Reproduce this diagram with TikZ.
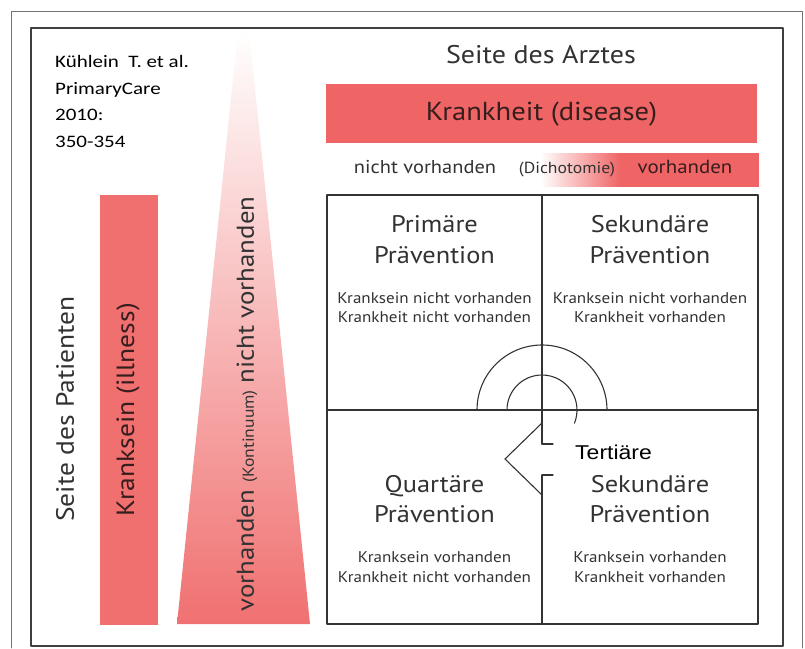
\documentclass[tikz,border=0pt]{standalone}
\usepackage{fontspec}
\setmainfont{PT Sans}[FakeStretch=1.1]
\newfontfamily\citefont{Carlito}[FakeStretch=1.2]
\newfontfamily\arialfont{Liberation Sans}[FakeStretch=1.15]

\definecolor{barred}{RGB}{239,100,100}
\definecolor{inkgray}{RGB}{50,50,50}
\definecolor{inkdark}{RGB}{55,30,30}

\begin{document}
\begin{tikzpicture}[x=1pt,y=1pt, line cap=round, line join=round,
  framebox/.style={draw=black!75, line width=1.3pt},
  gridline/.style={draw=black!80, line width=1.1pt},
  bigtext/.style={font=\fontsize{24}{28}\selectfont, text=inkgray, inner sep=0pt, anchor=base},
  smalltext/.style={font=\fontsize{15.5}{18}\selectfont, text=inkgray, inner sep=0pt, anchor=base},
  citetext/.style={font=\citefont\fontsize{17.5}{20}\selectfont, inner sep=0pt, anchor=base west},
  sidetext/.style={font=\fontsize{25}{29}\selectfont, text=inkgray, inner sep=0pt, rotate=90},
]

% -----------------------------
% Page and frames
% -----------------------------
\useasboundingbox (0,0) rectangle (805,648);

\draw[black!55, line width=0.9pt] (11,0) -- (11,637) -- (802,637) -- (802,0);
\draw[framebox] (31,2) rectangle (783,620);

% -----------------------------
% Citation
% -----------------------------
\node[citetext] (cite1) at (55,580) {Kühlein~~T. et al.};
\node[citetext] (cite2) at (55,553) {PrimaryCare};
\node[citetext] (cite3) at (55,527) {2010:};
\node[citetext] (cite4) at (55,500) {350-354};

% -----------------------------
% Doctor's side (top)
% -----------------------------
\node[bigtext, font=\fontsize{25.5}{29}\selectfont] (arzt) at (541,584) {Seite des Arztes};

\fill[barred] (326,505) rectangle (757,564);
\node[bigtext, text=inkdark, font=\fontsize{26}{30}\selectfont] (disease) at (541.5,527) {Krankheit (disease)};

% dichotomy bar: fades in from the left
\foreach \i in {0,...,40} {%
  \pgfmathsetmacro{\p}{2.5*\i}%
  \fill[barred!\p!white] (540+2*\i,461) rectangle (542.3+2*\i,495);%
}
\fill[barred] (620,461) rectangle (759,495);
\node[smalltext, font=\fontsize{18.6}{21}\selectfont] (nichtvh) at (425,474) {nicht vorhanden};
\node[smalltext, font=\fontsize{16}{19}\selectfont] (dicho) at (567,474) {(Dichotomie)};
\node[smalltext, text=inkdark, font=\fontsize{19}{22}\selectfont] (vh) at (685,474) {vorhanden};

% -----------------------------
% Patient's side (left)
% -----------------------------
\node[sidetext] (patient) at (65,239) {Seite des Patienten};

\fill[barred!93] (100,23) rectangle (158,453);
\node[sidetext, text=inkdark] (illness) at (128,238) {Kranksein (illness)};

% continuum wedge, pale at the top
\shade[top color=white, middle color=barred!42, bottom color=barred!92]
  (177,24) -- (310,24) -- (249,618) -- (238,618) -- cycle;
\node[sidetext, font=\fontsize{24.4}{28}\selectfont] (kont) at (247,244)
  {vorhanden {\fontsize{16}{18}\selectfont(Kontinuum)} nicht vorhanden};

% -----------------------------
% Four quadrants
% -----------------------------
\draw[gridline] (327,24) rectangle (758,453);
\draw[gridline] (327,238) -- (758,238);
\draw[gridline] (542,453) -- (542,204);
\draw[gridline] (542,173) -- (542,24);

\foreach \q/\cx/\cy/\ttl/\ka/\kb in {
  pri/434.5/415/Primäre/Kranksein nicht vorhanden/Krankheit nicht vorhanden,
  seka/650/415/Sekundäre/Kranksein nicht vorhanden/Krankheit vorhanden,
  qua/434.5/156/Quartäre/Kranksein vorhanden/Krankheit nicht vorhanden,
  sekb/650/156/Sekundäre/Kranksein vorhanden/Krankheit vorhanden} {
  \node[bigtext] (\q-t) at (\cx,\cy) {\ttl};
  \node[bigtext] (\q-p) at (\cx,\cy-30.5) {Prävention};
  \node[smalltext] (\q-a) at (\cx,\cy-70.5) {\ka};
  \node[smalltext] (\q-b) at (\cx,\cy-90) {\kb};
}

% -----------------------------
% Tertiary turn-back arrow
% -----------------------------
\draw[gridline] (477,238) arc[start angle=180, end angle=0, radius=65];
\draw[gridline] (507,238) arc[start angle=180, end angle=-22, radius=35];
\draw[gridline] (542,225) -- (505,189) -- (542,153);
\draw[gridline] (542,204) -- (553,204);
\draw[gridline] (542,173) -- (553,173);

\node[font=\arialfont\fontsize{20}{23}\selectfont, inner sep=0pt, anchor=base west] (tert) at (575,189) {Tertiäre};

\end{tikzpicture}
\end{document}
